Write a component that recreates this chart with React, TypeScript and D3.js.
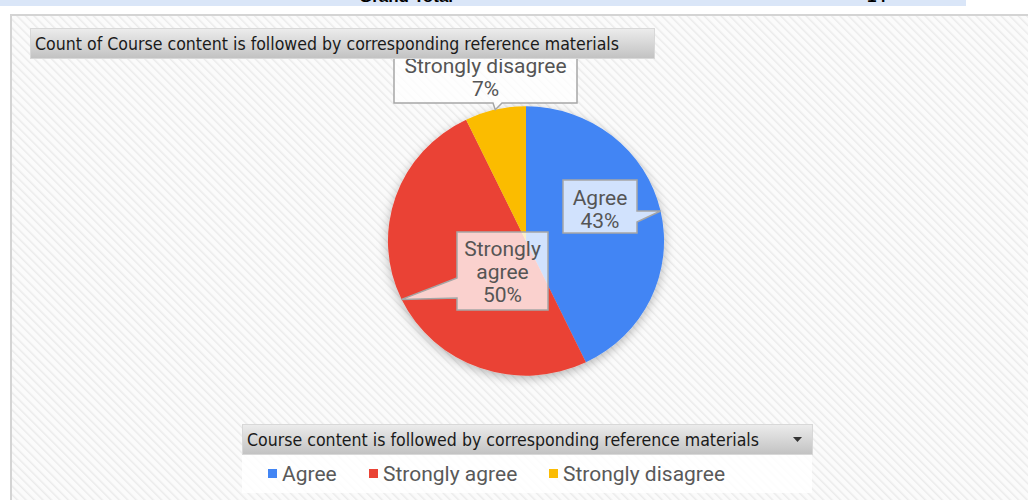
import React from "react";
import * as d3 from "d3";

const categories = ["Agree", "Strongly agree", "Strongly disagree"];
const counts = [6, 7, 1];
const colors = ["#4285F4", "#EA4335", "#FBBC04"];
const chartTitle = "Count of Course content is followed by corresponding reference  materials";
const fieldName = "Course content is followed by corresponding reference  materials";
const headerLabels = ["Grand Total", "14"];

const W = 1028;
const H = 500;
const cx = 526;
const cy = 241;
const R = 136;

type Box = { x: number; y: number; w: number; h: number; side: "bottom" | "right" | "left"; b0: number; b1: number; lines: number[] };
// callout boxes (layout), one per category
const boxes: Box[] = [
  { x: 563, y: 180, w: 74, h: 53, side: "right", b0: 211, b1: 222, lines: [205, 228] },
  { x: 457, y: 232, w: 91, h: 78, side: "left", b0: 278, b1: 298, lines: [256, 279, 302] },
  { x: 394, y: 50, w: 183, h: 53, side: "bottom", b0: 493, b1: 502, lines: [73, 96] },
];

function calloutPath(b: Box, tx: number, ty: number) {
  const x0 = b.x, y0 = b.y, x1 = b.x + b.w, y1 = b.y + b.h;
  if (b.side === "right") {
    return `M${x0},${y0}H${x1}V${b.b0}L${tx},${ty}L${x1},${b.b1}V${y1}H${x0}Z`;
  }
  if (b.side === "left") {
    return `M${x0},${y0}H${x1}V${y1}H${x0}V${b.b1}L${tx},${ty}L${x0},${b.b0}Z`;
  }
  return `M${x0},${y0}H${x1}V${y1}H${b.b1}L${tx},${ty}L${b.b0},${y1}H${x0}Z`;
}

export default function App() {
  const total = d3.sum(counts);
  const data = categories.map((c, i) => ({ name: c, value: counts[i], color: colors[i] }));
  const pie = d3.pie<any>().sort(null).value((d: any) => d.value);
  const arcs = pie(data);
  const arc = d3.arc<any>().innerRadius(0).outerRadius(R);
  const color = d3.scaleOrdinal<string, string>().domain(categories).range(colors);
  const pct = d3.format(".0%");

  const labelLines = (name: string, v: number) => {
    const p = pct(v / total);
    if (name === "Strongly agree") return ["Strongly", "agree", p];
    return [name, p];
  };

  const legendX = [268, 369, 549];

  return (
    <svg width={W} height={H} style={{ position: "absolute", left: 0, top: 0 }} xmlns="http://www.w3.org/2000/svg">
      <defs>
        <pattern id="hatch" width="6" height="6" patternUnits="userSpaceOnUse" patternTransform="rotate(-45)">
          <rect width="6" height="6" fill="#fbfbfb" />
          <line x1="0" y1="0" x2="0" y2="6" stroke="#ebebeb" strokeWidth="3" />
        </pattern>
        <linearGradient id="btn" x1="0" y1="0" x2="0" y2="1">
          <stop offset="0" stopColor="#ececec" />
          <stop offset="1" stopColor="#c2c2c2" />
        </linearGradient>
        <filter id="shadow" x="-20%" y="-20%" width="140%" height="140%">
          <feDropShadow dx="0" dy="3" stdDeviation="5" floodColor="#000" floodOpacity="0.28" />
        </filter>
        <clipPath id="band">
          <rect x="0" y="0" width="966" height="6" />
        </clipPath>
      </defs>
      <rect x="0" y="0" width={W} height={H} fill="#ffffff" />
      {/* header band */}
      <rect x="0" y="0" width="966" height="6" fill="#dae6f8" />
      <g clipPath="url(#band)" fontFamily="Liberation Sans, Arial, sans-serif" fontWeight="bold" fontSize="17" fill="#000">
        <text x="406" y="2" textAnchor="middle">{headerLabels[0]}</text>
        <text x="886" y="2" textAnchor="end">{headerLabels[1]}</text>
      </g>
      {/* chart area */}
      <rect x="11" y="15" width={W} height={H} fill="url(#hatch)" stroke="#d4d4d4" strokeWidth="2" />

      {/* pie */}
      <g transform={`translate(${cx},${cy}) scale(1.015,0.99)`} filter="url(#shadow)">
        {arcs.map((a, i) => (
          <path key={i} d={arc(a) as string} fill={color(a.data.name)} />
        ))}
      </g>

      {/* callouts */}
      <g fontFamily="Roboto, Liberation Sans, Arial, sans-serif" fontSize="21" fill="#555555" textAnchor="middle">
        {arcs.map((a, i) => {
          const b = boxes[i];
          const mid = (a.startAngle + a.endAngle) / 2;
          const tx = cx + R * 1.015 * Math.sin(mid);
          const ty = cy - R * 0.99 * Math.cos(mid);
          const lines = labelLines(a.data.name, a.data.value);
          return (
            <g key={i}>
              <path d={calloutPath(b, tx, ty)} fill="#ffffff" fillOpacity={0.76} stroke="#a6a6a6" strokeWidth="1.5" />
              {lines.map((l, j) => (
                <text key={j} x={b.x + b.w / 2} y={b.lines[j]}>{l}</text>
              ))}
            </g>
          );
        })}
      </g>

      {/* title button */}
      <rect x="30.5" y="28.5" width="624" height="30" fill="url(#btn)" stroke="#d8d8d8" />
      <text x="35" y="50" fontFamily="DejaVu Sans Condensed, DejaVu Sans, sans-serif" fontSize="18" fill="#1a1a1a" textLength="584" lengthAdjust="spacingAndGlyphs">{chartTitle}</text>

      {/* legend */}
      <rect x="242" y="455" width="570" height="38" fill="#ffffff" fillOpacity="0.85" />
      <rect x="242.5" y="424.5" width="570" height="30" fill="url(#btn)" stroke="#d8d8d8" />
      <text x="247" y="446" fontFamily="DejaVu Sans Condensed, DejaVu Sans, sans-serif" fontSize="18" fill="#1a1a1a" textLength="512" lengthAdjust="spacingAndGlyphs">{fieldName}</text>
      <path d="M793,437h9l-4.5,5z" fill="#333" />
      <g fontFamily="Roboto, Liberation Sans, Arial, sans-serif" fontSize="21" fill="#595959">
        {categories.map((c, i) => (
          <g key={c}>
            <rect x={legendX[i]} y={469} width={9} height={9} fill={color(c)} />
            <text x={legendX[i] + 14} y={481}>{c}</text>
          </g>
        ))}
      </g>
    </svg>
  );
}
